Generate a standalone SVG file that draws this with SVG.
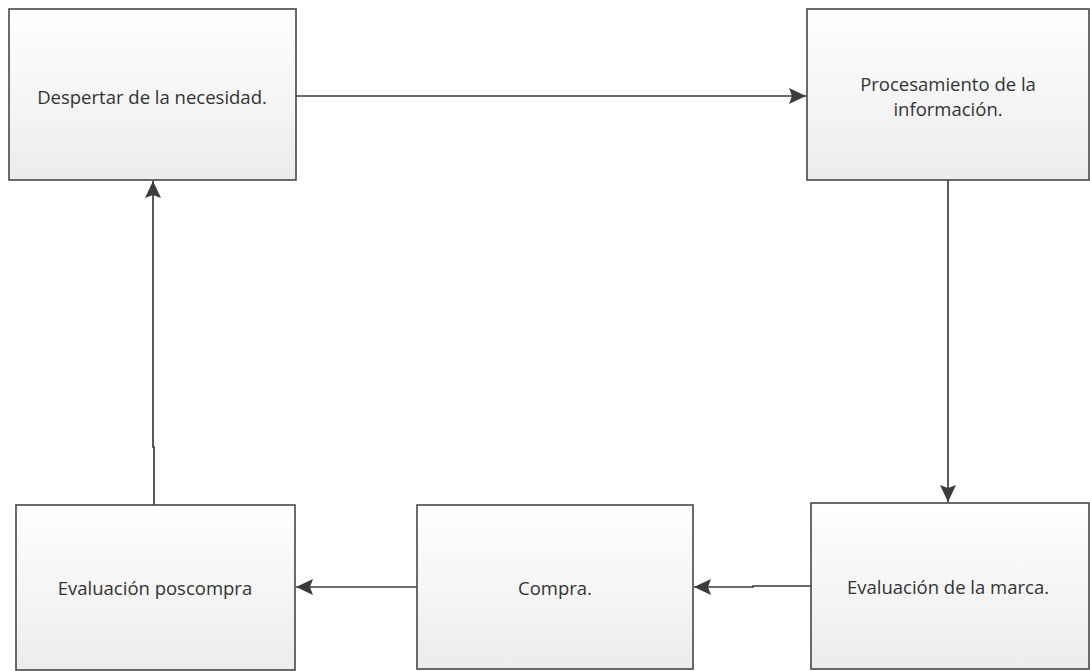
<svg xmlns="http://www.w3.org/2000/svg" width="1090" height="671" viewBox="0 0 1090 671">
<style>
.box{fill:url(#g);stroke:#474747;stroke-width:1.6}
.lbl{font-family:"Open Sans","Noto Sans","Liberation Sans",sans-serif;font-size:18.5px;fill:#333;text-anchor:middle;dominant-baseline:central}
.con{fill:none;stroke:#3c3c3c;stroke-width:1.7}
</style>
<defs>
<linearGradient id="g" x1="0" y1="0" x2="0" y2="1">
<stop offset="0" stop-color="#ffffff"/>
<stop offset="1" stop-color="#ececec"/>
</linearGradient>
<marker id="ah" viewBox="0 0 17 16" refX="17" refY="8" markerWidth="17" markerHeight="16" markerUnits="userSpaceOnUse" orient="auto">
<path d="M0,0 L17,8 L0,16 L3,8 Z" fill="#3c3c3c"/>
</marker>
</defs>
<rect width="1090" height="671" fill="#fff"/>
<g id="connectors">
<path class="con" d="M296,96 H806" marker-end="url(#ah)"/>
<path class="con" d="M948,180 V502" marker-end="url(#ah)"/>
<path class="con" d="M811,586 H753 V587 H694" marker-end="url(#ah)"/>
<path class="con" d="M417,587 H296" marker-end="url(#ah)"/>
<path class="con" d="M154,505 V447 H153 V181" marker-end="url(#ah)"/>
</g>
<g id="n1"><rect class="box" x="9" y="9" width="287" height="171"/><text class="lbl" x="152" y="96">Despertar de la necesidad.</text></g>
<g id="n2"><rect class="box" x="807" y="9" width="282" height="171"/><text class="lbl" x="948" y="83">Procesamiento de la</text><text class="lbl" x="948" y="108">información.</text></g>
<g id="n3"><rect class="box" x="811" y="503" width="278" height="166"/><text class="lbl" x="948" y="586">Evaluación de la marca.</text></g>
<g id="n4"><rect class="box" x="417" y="505" width="276" height="164"/><text class="lbl" x="555" y="587">Compra.</text></g>
<g id="n5"><rect class="box" x="16" y="505" width="279" height="165"/><text class="lbl" x="155" y="587">Evaluación poscompra</text></g>
</svg>
